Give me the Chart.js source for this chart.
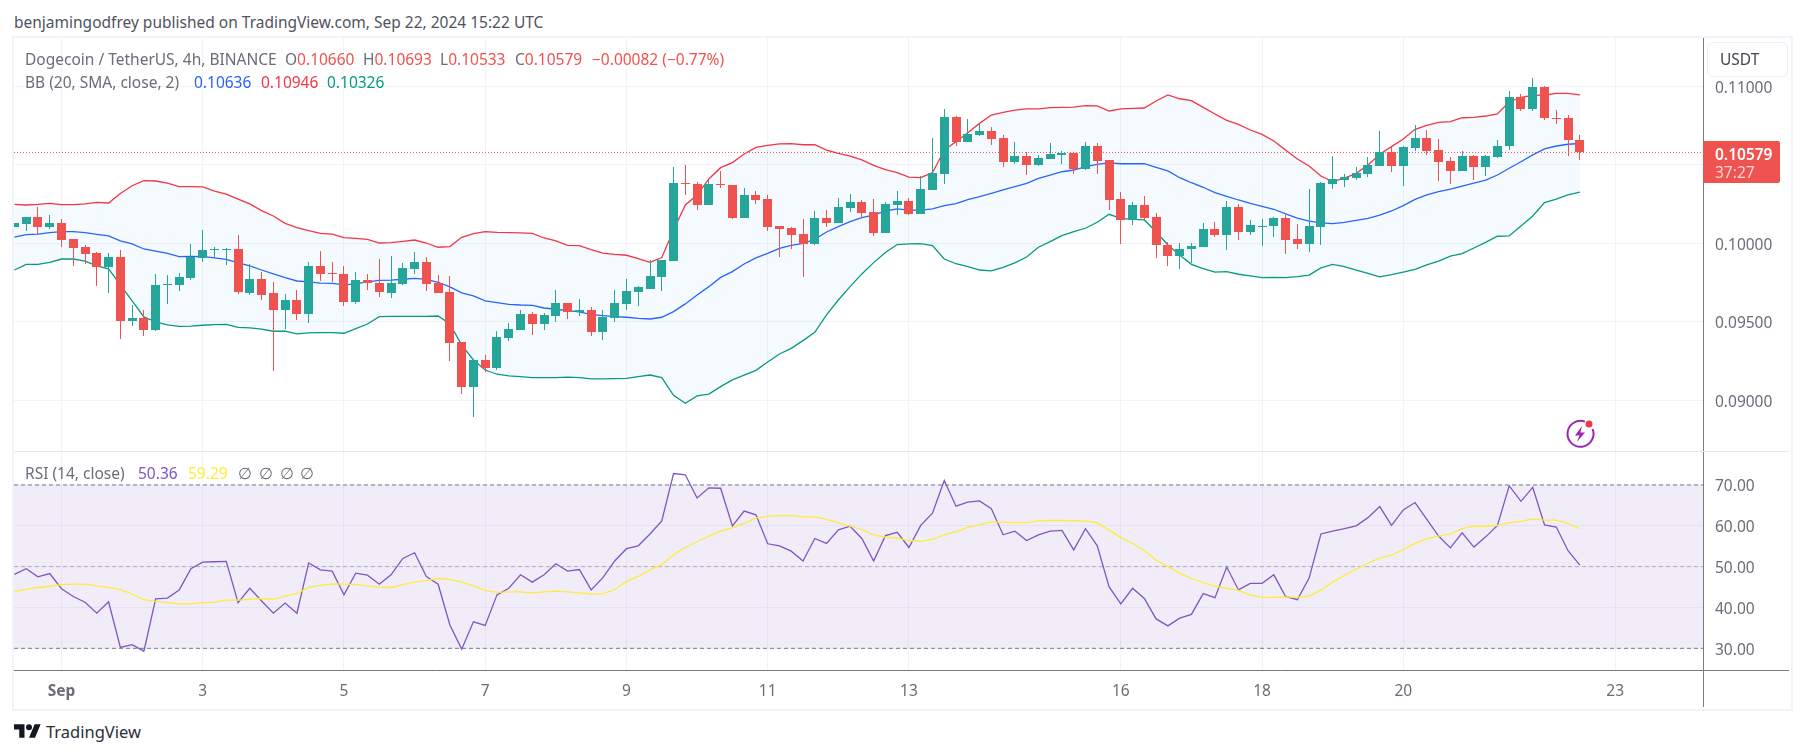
<!DOCTYPE html>
<html>
<head>
<meta charset="utf-8">
<script src="https://cdn.jsdelivr.net/npm/chart.js@4"></script>
<style>
  html, body { margin: 0; padding: 0; background: #fff; }
  body { width: 1806px; height: 755px; position: relative; overflow: hidden; font-family: "Noto Sans", sans-serif; color: #6a6d78; }
  .txt { position: absolute; white-space: pre; font-size: 15.5px; line-height: 20px; }
  .l1 { top: 49px; }
  .l2 { top: 72px; }
  .l3 { top: 463px; }
  .frame { position: absolute; left: 12px; top: 36px; width: 1777px; height: 671px; border: 2px solid #f0f3fa; }
  canvas { position: absolute; }
  #sep { position: absolute; left: 14px; top: 451px; width: 1775px; height: 1px; background: #e6e8ef; }
  #axisFoot { position: absolute; left: 1703px; top: 670px; width: 1px; height: 37px; background: #787b86; }
  #axisLine { position: absolute; left: 1703px; top: 670px; width: 86px; height: 1px; background: #787b86; }
  #usdt { position: absolute; left: 1707px; top: 42px; width: 79px; height: 33px; border: 1px solid #eceef4; border-radius: 6px; background: #fff; }
  #tag { position: absolute; left: 1703px; top: 141px; width: 77px; height: 42px; background: #ef5350; border-radius: 0 2px 2px 0; }
  .red { color: #ef5350; }
</style>
</head>
<body>
<div class="txt" style="left:14px;top:12px;color:#50535e">benjamingodfrey published on TradingView.com, Sep 22, 2024 15:22 UTC</div>
<div class="frame"></div>
<canvas id="graficaPrecio" width="1775" height="413" style="left:14px;top:38px;width:1775px;height:413px"></canvas>
<canvas id="graficaRsi" width="1775" height="255" style="left:14px;top:452px;width:1775px;height:255px"></canvas>
<div id="sep"></div>
<div id="axisFoot"></div>
<div id="axisLine"></div>

<div class="txt l1" style="left:25px">Dogecoin / TetherUS, 4h, BINANCE</div>
<div class="txt l1" style="left:285px">O<span class="red">0.10660</span></div>
<div class="txt l1" style="left:363px">H<span class="red">0.10693</span></div>
<div class="txt l1" style="left:440px">L<span class="red">0.10533</span></div>
<div class="txt l1" style="left:515px">C<span class="red">0.10579</span></div>
<div class="txt l1 red" style="left:592px">−0.00082 (−0.77%)</div>

<div class="txt l2" style="left:25px">BB (20, SMA, close, 2)</div>
<div class="txt l2" style="left:194px;color:#2962ff">0.10636</div>
<div class="txt l2" style="left:261px;color:#f23645">0.10946</div>
<div class="txt l2" style="left:327px;color:#089981">0.10326</div>

<div class="txt l3" style="left:25px">RSI (14, close)</div>
<div class="txt l3" style="left:138px;color:#7e57c2">50.36</div>
<div class="txt l3" style="left:188px;color:#ffeb3b">59.29</div>
<div class="txt l3" style="left:238px">∅</div>
<div class="txt l3" style="left:259px">∅</div>
<div class="txt l3" style="left:280px">∅</div>
<div class="txt l3" style="left:300px">∅</div>

<div id="usdt"></div>
<div class="txt" style="left:1720px;top:49px;color:#434651">USDT</div>
<div id="tag"></div>
<div class="txt" style="left:1715px;top:144px;color:#fff;font-weight:600">0.10579</div>
<div class="txt" style="left:1715px;top:162px;color:#fbd5d4">37:27</div>

<svg style="position:absolute;left:1564px;top:418px" width="34" height="32" viewBox="0 0 34 32">
  <path d="M21 3.6 A13 13 0 1 0 28.6 11" fill="none" stroke="#9c27b0" stroke-width="2"/>
  <path d="M18 8 L11 17.5 H15.5 L13 24 L21 14.5 H16.5 Z" fill="#9c27b0"/>
  <circle cx="25" cy="6" r="3.5" fill="#f23645"/>
</svg>

<svg style="position:absolute;left:14px;top:724px" width="27" height="14" viewBox="0 4 36 18">
  <path d="M14 22H7V11H0V4h14v18zM28 22h-8l7.5-18h8L28 22z" fill="#131722"/>
  <circle cx="20" cy="8" r="4" fill="#131722"/>
</svg>
<div class="txt" style="left:46px;top:720px;font-size:16.5px;line-height:24px;color:#2a2e39">TradingView</div>

<script>
// velas de 4h, la primera cae 4 velas antes del 1 de septiembre
const opens = [0.10104,0.10123,0.10168,0.10104,0.10130,0.10028,0.09977,0.09938,0.09849,0.09913,0.09505,0.09524,0.09448,0.09735,0.09735,0.09779,0.09907,0.09962,0.09963,0.09964,0.09684,0.09773,0.09684,0.09575,0.09639,0.09550,0.09856,0.09810,0.09805,0.09626,0.09766,0.09747,0.09684,0.09741,0.09837,0.09881,0.09747,0.09690,0.09372,0.09085,0.09257,0.09206,0.09397,0.09448,0.09550,0.09486,0.09537,0.09620,0.09563,0.09575,0.09435,0.09524,0.09614,0.09690,0.09709,0.09786,0.09887,0.10384,0.10378,0.10244,0.10378,0.10372,0.10161,0.10308,0.10282,0.10110,0.10098,0.10059,0.09996,0.10161,0.10130,0.10225,0.10263,0.10200,0.10066,0.10244,0.10270,0.10187,0.10340,0.10442,0.10805,0.10645,0.10690,0.10715,0.10671,0.10518,0.10556,0.10499,0.10537,0.10563,0.10575,0.10473,0.10620,0.10531,0.10282,0.10149,0.10244,0.10168,0.09989,0.09919,0.09964,0.09977,0.10091,0.10053,0.10231,0.10072,0.10107,0.10110,0.10161,0.10028,0.09996,0.10104,0.10378,0.10403,0.10416,0.10442,0.10493,0.10582,0.10493,0.10607,0.10671,0.10594,0.10524,0.10461,0.10556,0.10486,0.10550,0.10620,0.10932,0.10856,0.10996,0.10798,0.10798,0.10660];
const highs = [0.10130,0.10168,0.10231,0.10180,0.10155,0.10028,0.09989,0.09945,0.09938,0.09958,0.09607,0.09575,0.09805,0.09798,0.09811,0.09996,0.10085,0.09977,0.09970,0.10053,0.09868,0.09817,0.09754,0.09677,0.09703,0.09881,0.09951,0.09881,0.09856,0.09817,0.09805,0.09900,0.09919,0.09875,0.09945,0.09913,0.09798,0.09792,0.09372,0.09257,0.09289,0.09442,0.09493,0.09575,0.09563,0.09556,0.09703,0.09620,0.09645,0.09595,0.09575,0.09703,0.09773,0.09728,0.09894,0.09894,0.10486,0.10499,0.10391,0.10403,0.10461,0.10372,0.10352,0.10333,0.10308,0.10110,0.10104,0.10155,0.10206,0.10212,0.10289,0.10314,0.10276,0.10282,0.10263,0.10333,0.10289,0.10429,0.10671,0.10856,0.10811,0.10792,0.10766,0.10741,0.10690,0.10645,0.10582,0.10563,0.10639,0.10588,0.10582,0.10645,0.10639,0.10531,0.10327,0.10263,0.10301,0.10193,0.10008,0.10002,0.10002,0.10130,0.10136,0.10270,0.10251,0.10149,0.10155,0.10168,0.10180,0.10123,0.10346,0.10391,0.10556,0.10442,0.10486,0.10550,0.10715,0.10620,0.10620,0.10754,0.10722,0.10664,0.10550,0.10588,0.10563,0.10563,0.10658,0.10970,0.10951,0.11053,0.11002,0.10849,0.10817,0.10693];
const lows = [0.10104,0.10079,0.10059,0.10091,0.09977,0.09856,0.09868,0.09728,0.09684,0.09391,0.09474,0.09410,0.09442,0.09614,0.09696,0.09766,0.09881,0.09904,0.09862,0.09677,0.09671,0.09639,0.09187,0.09454,0.09512,0.09493,0.09760,0.09754,0.09601,0.09614,0.09703,0.09658,0.09652,0.09735,0.09805,0.09696,0.09684,0.09251,0.09040,0.08894,0.09181,0.09193,0.09378,0.09448,0.09416,0.09448,0.09499,0.09518,0.09537,0.09410,0.09384,0.09499,0.09575,0.09601,0.09709,0.09696,0.09887,0.10308,0.10212,0.10244,0.10352,0.10155,0.10161,0.10251,0.10079,0.09913,0.09964,0.09786,0.09989,0.10104,0.10130,0.10200,0.10161,0.10047,0.10066,0.10180,0.10180,0.10187,0.10340,0.10378,0.10620,0.10645,0.10684,0.10626,0.10486,0.10505,0.10435,0.10493,0.10537,0.10505,0.10442,0.10467,0.10442,0.10212,0.09996,0.10117,0.10149,0.09907,0.09856,0.09837,0.09875,0.09977,0.10040,0.09958,0.10021,0.10053,0.09983,0.10040,0.09932,0.09964,0.09945,0.09989,0.10346,0.10359,0.10403,0.10422,0.10493,0.10454,0.10365,0.10588,0.10563,0.10397,0.10378,0.10461,0.10403,0.10429,0.10543,0.10594,0.10843,0.10843,0.10786,0.10760,0.10556,0.10533];
const closes = [0.10130,0.10168,0.10104,0.10130,0.10021,0.09970,0.09932,0.09849,0.09913,0.09505,0.09524,0.09448,0.09735,0.09739,0.09786,0.09913,0.09958,0.09964,0.09965,0.09690,0.09773,0.09671,0.09575,0.09639,0.09550,0.09856,0.09805,0.09808,0.09626,0.09766,0.09747,0.09690,0.09747,0.09843,0.09881,0.09741,0.09684,0.09365,0.09085,0.09257,0.09206,0.09403,0.09454,0.09550,0.09486,0.09544,0.09620,0.09563,0.09575,0.09435,0.09531,0.09620,0.09696,0.09722,0.09792,0.09894,0.10384,0.10380,0.10244,0.10378,0.10372,0.10161,0.10308,0.10276,0.10104,0.10091,0.10053,0.09996,0.10161,0.10130,0.10231,0.10263,0.10193,0.10066,0.10251,0.10270,0.10187,0.10346,0.10448,0.10805,0.10645,0.10696,0.10715,0.10664,0.10518,0.10556,0.10499,0.10543,0.10569,0.10575,0.10473,0.10620,0.10524,0.10276,0.10149,0.10244,0.10161,0.09989,0.09919,0.09964,0.09983,0.10091,0.10053,0.10231,0.10072,0.10117,0.10110,0.10161,0.10021,0.09996,0.10110,0.10384,0.10410,0.10422,0.10448,0.10499,0.10582,0.10493,0.10614,0.10671,0.10588,0.10518,0.10461,0.10556,0.10486,0.10556,0.10620,0.10932,0.10856,0.10996,0.10798,0.10795,0.10660,0.10579];

const bbUpper = [0.10248,0.10244,0.10248,0.10255,0.10246,0.10246,0.10251,0.10261,0.10257,0.10318,0.10367,0.10399,0.10397,0.10384,0.10361,0.10361,0.10359,0.10333,0.10314,0.10282,0.10251,0.10208,0.10174,0.10127,0.10100,0.10081,0.10064,0.10059,0.10036,0.10032,0.10025,0.10002,0.10004,0.10013,0.10021,0.10002,0.09975,0.09979,0.10038,0.10062,0.10074,0.10070,0.10068,0.10066,0.10064,0.10034,0.10015,0.09987,0.09985,0.09960,0.09938,0.09930,0.09924,0.09902,0.09879,0.09909,0.10085,0.10244,0.10308,0.10410,0.10482,0.10514,0.10569,0.10611,0.10624,0.10633,0.10635,0.10628,0.10628,0.10594,0.10573,0.10556,0.10531,0.10497,0.10469,0.10450,0.10422,0.10418,0.10450,0.10594,0.10648,0.10705,0.10764,0.10817,0.10834,0.10849,0.10856,0.10856,0.10864,0.10866,0.10868,0.10877,0.10875,0.10843,0.10856,0.10860,0.10862,0.10907,0.10945,0.10921,0.10909,0.10866,0.10824,0.10783,0.10758,0.10722,0.10694,0.10652,0.10594,0.10537,0.10493,0.10429,0.10393,0.10416,0.10446,0.10499,0.10567,0.10616,0.10665,0.10726,0.10752,0.10771,0.10775,0.10800,0.10802,0.10811,0.10824,0.10902,0.10930,0.10943,0.10945,0.10955,0.10955,0.10946];
const bbBasis = [0.10040,0.10055,0.10059,0.10068,0.10074,0.10074,0.10068,0.10057,0.10047,0.10015,0.09996,0.09964,0.09951,0.09936,0.09915,0.09917,0.09915,0.09907,0.09898,0.09875,0.09856,0.09830,0.09805,0.09781,0.09760,0.09754,0.09747,0.09745,0.09735,0.09741,0.09754,0.09764,0.09766,0.09771,0.09777,0.09771,0.09752,0.09722,0.09684,0.09665,0.09633,0.09622,0.09611,0.09607,0.09605,0.09588,0.09580,0.09571,0.09563,0.09546,0.09539,0.09533,0.09529,0.09522,0.09518,0.09529,0.09565,0.09614,0.09671,0.09724,0.09783,0.09820,0.09868,0.09907,0.09936,0.09968,0.09987,0.10000,0.10025,0.10072,0.10106,0.10138,0.10163,0.10180,0.10206,0.10219,0.10212,0.10212,0.10219,0.10240,0.10253,0.10278,0.10297,0.10318,0.10340,0.10361,0.10382,0.10414,0.10435,0.10456,0.10467,0.10488,0.10503,0.10512,0.10507,0.10507,0.10507,0.10484,0.10461,0.10418,0.10386,0.10357,0.10323,0.10299,0.10276,0.10255,0.10236,0.10217,0.10187,0.10161,0.10142,0.10130,0.10125,0.10134,0.10146,0.10159,0.10180,0.10206,0.10240,0.10280,0.10308,0.10329,0.10346,0.10365,0.10384,0.10403,0.10435,0.10478,0.10520,0.10563,0.10601,0.10620,0.10631,0.10636];
const bbLower = [0.09830,0.09866,0.09866,0.09879,0.09900,0.09900,0.09887,0.09856,0.09837,0.09735,0.09633,0.09531,0.09499,0.09480,0.09471,0.09473,0.09478,0.09482,0.09484,0.09465,0.09461,0.09454,0.09440,0.09440,0.09423,0.09429,0.09431,0.09431,0.09427,0.09457,0.09486,0.09533,0.09535,0.09535,0.09535,0.09535,0.09537,0.09486,0.09352,0.09257,0.09193,0.09166,0.09155,0.09151,0.09144,0.09144,0.09144,0.09147,0.09144,0.09136,0.09136,0.09138,0.09140,0.09151,0.09161,0.09144,0.09032,0.08981,0.09028,0.09040,0.09087,0.09130,0.09161,0.09191,0.09244,0.09295,0.09331,0.09380,0.09433,0.09544,0.09639,0.09724,0.09805,0.09877,0.09941,0.09992,0.09996,0.09998,0.09985,0.09900,0.09870,0.09851,0.09830,0.09824,0.09847,0.09875,0.09913,0.09975,0.10011,0.10049,0.10074,0.10096,0.10134,0.10185,0.10159,0.10153,0.10149,0.10074,0.09989,0.09926,0.09866,0.09839,0.09817,0.09820,0.09803,0.09792,0.09781,0.09783,0.09781,0.09788,0.09798,0.09843,0.09866,0.09851,0.09830,0.09809,0.09786,0.09800,0.09817,0.09834,0.09862,0.09887,0.09919,0.09934,0.09970,0.10006,0.10045,0.10047,0.10110,0.10174,0.10259,0.10282,0.10308,0.10326];

const rsiValues = [48.1,49.5,47.5,48.3,44.6,42.7,41.3,38.6,41.4,30.2,30.9,29.3,42.1,42.3,44.3,49.5,51.1,51.2,51.3,41.2,44.7,41.6,38.6,41.1,38.6,50.9,49.2,48.9,43.1,48.4,47.9,45.7,48.0,52.0,53.4,47.6,45.7,35.7,29.8,36.5,35.6,43.1,44.7,48.0,46.2,48.0,50.7,48.9,49.3,44.3,47.3,51.4,54.4,55.1,58.0,61.2,72.8,72.5,66.8,69.3,69.2,60.0,63.6,62.7,55.6,55.1,53.8,51.4,56.9,55.7,59.0,59.9,56.9,51.4,57.6,58.4,54.7,60.1,63.1,71.1,64.8,65.8,66.1,64.2,57.8,58.7,56.4,57.8,58.7,58.9,54.1,59.3,55.1,45.1,40.9,44.7,42.2,37.2,35.5,37.4,38.3,43.4,42.4,49.9,44.3,45.9,45.9,48.0,42.7,41.9,47.2,58.0,58.7,59.3,60.0,62.0,64.7,60.1,63.9,65.7,61.6,57.5,54.6,58.3,54.8,57.3,60.1,69.8,66.0,69.4,60.2,59.7,53.9,50.36];
const rsiMa = [43.9,44.5,44.9,45.2,45.6,45.7,45.7,45.3,44.9,44.4,43.3,41.9,41.5,41.2,40.9,40.9,41.2,41.3,41.8,41.8,42.0,42.2,42.0,42.8,43.4,44.9,45.4,45.8,45.7,45.6,45.3,45.0,44.9,45.6,46.2,46.6,47.1,46.9,46.2,45.3,44.2,43.7,43.8,43.8,43.6,43.8,44.0,43.8,43.6,43.3,43.4,44.4,46.4,47.6,49.2,50.5,52.9,54.7,56.1,57.5,58.7,59.5,60.6,61.9,62.3,62.5,62.5,62.2,62.2,61.6,60.7,59.9,59.1,57.8,57.2,57.0,56.4,56.2,56.7,57.8,58.6,59.6,60.3,60.9,60.9,60.8,60.8,61.2,61.3,61.3,61.2,61.2,60.7,59.0,57.1,55.7,53.9,51.6,50.0,48.4,47.1,46.1,45.2,44.7,44.2,43.1,42.4,42.5,42.6,42.5,42.8,44.3,46.2,47.9,49.4,50.9,52.1,52.8,54.2,55.7,56.8,57.5,58.0,59.3,59.9,59.9,60.1,60.7,61.1,61.7,61.4,61.4,60.6,59.29];

const dayTicks = [1, 3, 5, 7, 9, 11, 13, 16, 18, 20, 23];
const dayLabels = ["Sep", "3", "5", "7", "9", "11", "13", "16", "18", "20", "23"];
const priceTicks = [0.09, 0.095, 0.10, 0.105, 0.11];
const rsiTicks = [30, 40, 50, 60, 70];
const lastPrice = 0.10579;

const verde = '#26a69a';
const rojo = '#ef5350';
const gris = '#f0f3fa';
const textoEje = '#6a6d78';

const diaMin = 0.3274, diaMax = 24.244;
const barDays = opens.map((_, i) => 1 + (i - 4) / 6);
const colores = opens.map((o, i) => closes[i] >= o ? verde : rojo);
const serie = vals => barDays.map((x, i) => ({ x: x, y: vals[i] }));
const nivel = v => [{ x: diaMin, y: v }, { x: diaMax, y: v }];

// alinea cada vela a pixel entero para que las mechas salgan nitidas
const velasNitidas = {
    id: 'velasNitidas',
    afterDatasetsUpdate(chart) {
        chart.data.datasets.forEach((ds, idx) => {
            if (ds.type !== 'bar') return;
            chart.getDatasetMeta(idx).data.forEach(el => {
                el.x = Math.round(el.x - 0.5) + 0.5;
                el.y = Math.round(el.y);
                el.base = Math.round(el.base);
                if (el.y === el.base) el.base = el.y + 1;
            });
        });
    }
};

const linea = (datos, color, ancho, extra) => Object.assign({
    type: 'line', data: datos, borderColor: color, borderWidth: ancho,
    pointRadius: 0, tension: 0, fill: false, order: 2
}, extra || {});

const ejeDias = conEtiquetas => ({
    type: 'linear', min: diaMin, max: diaMax, offset: false,
    afterBuildTicks: s => { s.ticks = dayTicks.map(v => ({ value: v })); },
    afterFit: s => { s.height = conEtiquetas ? 37 : 0; s.paddingLeft = 0; s.paddingRight = 0; },
    grid: { color: gris, drawTicks: false, offset: false },
    border: { display: conEtiquetas, color: '#787b86' },
    ticks: {
        display: conEtiquetas, autoSkip: false, maxRotation: 0, padding: 12, color: textoEje,
        font: c => ({ family: '"Noto Sans"', size: 15.5, weight: c.tick && c.tick.value === 1 ? 'bold' : 'normal' }),
        callback: v => dayLabels[dayTicks.indexOf(v)]
    }
});

const ejePrecio = (min, max, marcas, decimales) => ({
    position: 'right', min: min, max: max,
    afterBuildTicks: s => { s.ticks = marcas.map(v => ({ value: v })); },
    afterFit: s => { s.width = 86; s.paddingTop = 0; s.paddingBottom = 0; },
    grid: { color: gris, drawTicks: false },
    border: { color: '#787b86' },
    ticks: {
        padding: 12, labelOffset: 2, color: textoEje, autoSkip: false,
        font: { family: '"Noto Sans"', size: 15.5 },
        callback: v => v.toFixed(decimales)
    }
});

const opcionesBase = {
    responsive: false,
    animation: false,
    events: [],
    layout: { padding: 0, autoPadding: false },
    plugins: { legend: { display: false }, tooltip: { enabled: false } }
};

new Chart(document.getElementById('graficaPrecio').getContext('2d'), {
    type: 'bar',
    plugins: [velasNitidas],
    data: {
        datasets: [
            { type: 'bar', data: barDays.map((x, i) => ({ x: x, y: [opens[i], closes[i]] })), backgroundColor: colores, barThickness: 9, grouped: false, inflateAmount: 0, order: 0 },
            { type: 'bar', data: barDays.map((x, i) => ({ x: x, y: [lows[i], highs[i]] })), backgroundColor: colores, barThickness: 1, grouped: false, inflateAmount: 0, order: 1 },
            linea(nivel(lastPrice), rojo, 1, { borderDash: [1, 2], order: 1 }),
            linea(serie(bbUpper), '#f23645', 1.3, { fill: '+2', backgroundColor: 'rgba(33,150,243,0.05)' }),
            linea(serie(bbBasis), '#2962ff', 1.3),
            linea(serie(bbLower), '#089981', 1.3)
        ]
    },
    options: Object.assign({}, opcionesBase, {
        scales: {
            x: ejeDias(false),
            y: ejePrecio(0.08677, 0.11308, priceTicks, 5)
        }
    })
});

new Chart(document.getElementById('graficaRsi').getContext('2d'), {
    type: 'line',
    data: {
        datasets: [
            linea(serie(rsiMa), '#ffeb3b', 1.3, { order: 0 }),
            linea(serie(rsiValues), '#7e57c2', 1.3, { order: 1 }),
            linea(nivel(70), '#787b86', 1, { borderDash: [4, 3], fill: { value: 30 }, backgroundColor: 'rgba(126,87,194,0.11)', order: 3 }),
            linea(nivel(50), 'rgba(120,123,134,0.5)', 1, { borderDash: [4, 3], order: 3 }),
            linea(nivel(30), '#787b86', 1, { borderDash: [4, 3], order: 3 })
        ]
    },
    options: Object.assign({}, opcionesBase, {
        scales: {
            x: ejeDias(true),
            y: ejePrecio(24.69, 78.08, rsiTicks, 2)
        }
    })
});
</script>
</body>
</html>
